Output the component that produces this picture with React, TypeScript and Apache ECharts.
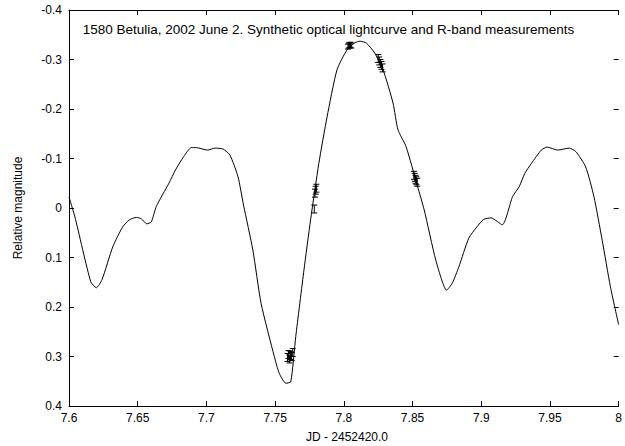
import React, { useEffect, useRef } from "react";
import * as echarts from "echarts";

const curveJD = [
  7.6, 7.6043, 7.6158, 7.6199, 7.624, 7.6319, 7.6391, 7.6439, 7.6491, 7.6527,
  7.6566, 7.6599, 7.6635, 7.6727, 7.6775, 7.6835, 7.689, 7.6926, 7.7009, 7.7063,
  7.7122, 7.7171, 7.723, 7.727, 7.7338, 7.7398, 7.7494, 7.753, 7.7578, 7.7614,
  7.765, 7.771, 7.7758, 7.7818, 7.7878, 7.795, 7.8022, 7.8081, 7.8117, 7.8165,
  7.8225, 7.8286, 7.8358, 7.8394, 7.8453, 7.8537, 7.8585, 7.8669, 7.8748, 7.8789,
  7.8837, 7.8909, 7.8969, 7.9017, 7.9072, 7.9153, 7.9228, 7.9276, 7.9317, 7.9365,
  7.9437, 7.948, 7.9556, 7.964, 7.9688, 7.976, 7.982, 7.988, 7.994, 8.0,
];
const curveMag = [
  -0.022, 0.018, 0.149, 0.161, 0.145, 0.078, 0.038, 0.024, 0.019, 0.022,
  0.032, 0.028, -0.003, -0.05, -0.077, -0.104, -0.122, -0.122, -0.117, -0.121,
  -0.119, -0.107, -0.063, -0.006, 0.085, 0.193, 0.3, 0.334, 0.354, 0.351,
  0.26, 0.125, 0.024, -0.09, -0.184, -0.279, -0.319, -0.334, -0.337, -0.333,
  -0.313, -0.279, -0.212, -0.158, -0.124, -0.043, 0.004, 0.105, 0.166, 0.152,
  0.119, 0.061, 0.038, 0.023, 0.02, 0.034, -0.023, -0.043, -0.07, -0.09,
  -0.117, -0.123, -0.117, -0.121, -0.114, -0.083, -0.023, 0.065, 0.159, 0.236,
];

const obsJD = [
  7.759, 7.7598, 7.7605, 7.7612, 7.762, 7.7628,
  7.7785, 7.779, 7.7795, 7.78,
  7.803, 7.8036, 7.8042, 7.8048, 7.8054,
  7.825, 7.8258, 7.8266, 7.8274, 7.8282,
  7.851, 7.8516, 7.8522, 7.8528, 7.8534,
];
const obsMag = [
  0.302, 0.296, 0.305, 0.298, 0.3, 0.292,
  0.002, -0.03, -0.036, -0.04,
  -0.326, -0.328, -0.329, -0.33, -0.328,
  -0.302, -0.297, -0.292, -0.288, -0.283,
  -0.066, -0.062, -0.058, -0.055, -0.052,
];
const obsErr = [
  0.008, 0.008, 0.008, 0.008, 0.008, 0.008,
  0.008, 0.008, 0.008, 0.008,
  0.005, 0.005, 0.005, 0.005, 0.005,
  0.008, 0.008, 0.008, 0.008, 0.008,
  0.008, 0.008, 0.008, 0.008, 0.008,
];

const titleText =
  "1580 Betulia, 2002 June 2. Synthetic optical lightcurve and R-band measurements";
const xTitle = "JD - 2452420.0";
const yTitle = "Relative magnitude";

const FONT = "'Liberation Sans', Arial, Helvetica, sans-serif";

export default function App() {
  const ref = useRef<HTMLDivElement>(null);
  useEffect(() => {
    if (!ref.current) return;
    const chart = echarts.init(ref.current, null, { renderer: "svg" });
    const axisBase = {
      type: "value" as const,
      axisLine: { show: true, onZero: false, lineStyle: { color: "#000", width: 1 } },
      axisTick: { show: true, inside: true, length: 5, lineStyle: { color: "#000" } },
      splitLine: { show: false },
    };
    const option: any = {
      animation: false,
      backgroundColor: "#fff",
      textStyle: { fontFamily: FONT },
      grid: { left: 69, right: 0, top: 10, bottom: 40, containLabel: false },
      xAxis: [
        {
          ...axisBase,
          position: "bottom",
          min: 7.6,
          max: 8.0,
          interval: 0.05,
          axisLabel: { show: true, color: "#000", fontSize: 12, fontFamily: FONT, margin: 6, showMaxLabel: true },
        },
        {
          ...axisBase,
          position: "top",
          min: 7.6,
          max: 8.0,
          interval: 0.05,
          axisLabel: { show: false },
        },
      ],
      yAxis: [
        {
          ...axisBase,
          position: "left",
          inverse: true,
          min: -0.4,
          max: 0.4,
          interval: 0.1,
          axisLabel: { show: true, color: "#000", fontSize: 12, fontFamily: FONT, margin: 7 },
        },
        {
          ...axisBase,
          position: "right",
          inverse: true,
          min: -0.4,
          max: 0.4,
          interval: 0.1,
          axisLine: { show: false, onZero: false },
          axisLabel: { show: false },
        },
      ],
      graphic: [
        {
          type: "text",
          x: 328.5,
          y: 29,
          style: {
            text: titleText,
            fill: "#000",
            font: `13.5px ${FONT}`,
            textAlign: "center",
            textVerticalAlign: "middle",
          },
        },
        {
          type: "text",
          x: 347,
          y: 437,
          style: { text: xTitle, fill: "#000", font: `12px ${FONT}`, textAlign: "center", textVerticalAlign: "middle" },
        },
        {
          type: "text",
          x: 18,
          y: 208,
          rotation: Math.PI / 2,
          style: { text: yTitle, fill: "#000", font: `12px ${FONT}`, textAlign: "center", textVerticalAlign: "middle" },
        },
      ],
      series: [
        {
          type: "line",
          xAxisIndex: 0,
          yAxisIndex: 0,
          data: curveJD.map((x, i) => [x, curveMag[i]]),
          showSymbol: false,
          symbol: "none",
          smooth: 0.2,
          lineStyle: { color: "#000", width: 1 },
          silent: true,
        },
        {
          type: "custom",
          xAxisIndex: 0,
          yAxisIndex: 0,
          data: obsJD.map((x, i) => [x, obsMag[i], obsErr[i]]),
          encode: { x: 0, y: 1 },
          renderItem: (params: any, api: any) => {
            const x = api.value(0);
            const y = api.value(1);
            const e = api.value(2);
            const t = api.coord([x, y - e]);
            const b = api.coord([x, y + e]);
            const c = 3;
            const st = { stroke: "#000", lineWidth: 1 };
            return {
              type: "group",
              children: [
                { type: "line", shape: { x1: t[0], y1: t[1], x2: b[0], y2: b[1] }, style: st },
                { type: "line", shape: { x1: t[0] - c, y1: t[1], x2: t[0] + c, y2: t[1] }, style: st },
                { type: "line", shape: { x1: b[0] - c, y1: b[1], x2: b[0] + c, y2: b[1] }, style: st },
              ],
            };
          },
          silent: true,
        },
      ],
    };
    chart.setOption(option);
    return () => chart.dispose();
  }, []);
  return (
    <div
      ref={ref}
      style={{ position: "fixed", left: 0, top: 0, width: 625, height: 446, background: "#fff" }}
    />
  );
}
